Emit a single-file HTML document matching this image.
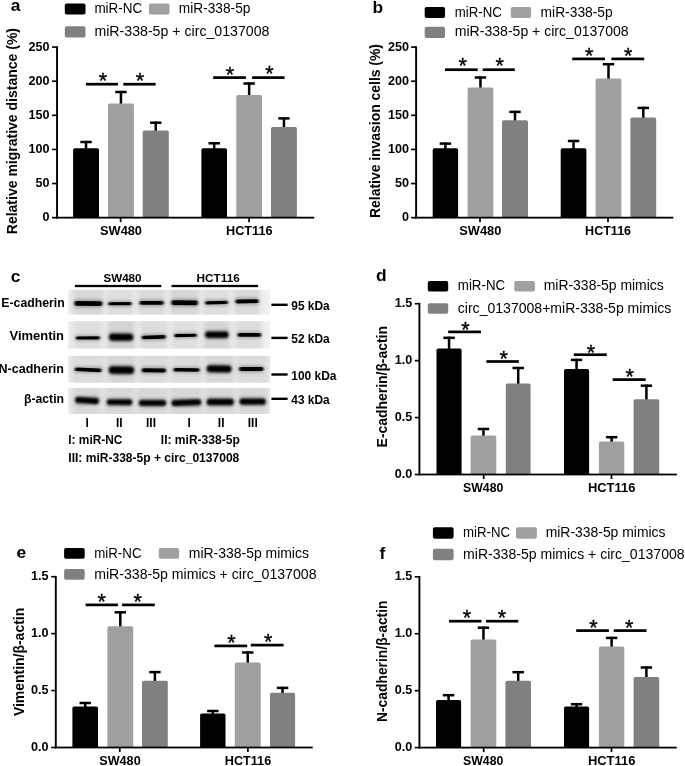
<!DOCTYPE html>
<html lang="en"><head><meta charset="utf-8"><title>Figure</title>
<style>
html,body{margin:0;padding:0;background:#fff;}
body{width:685px;height:766px;overflow:hidden;}
svg{display:block;font-family:"Liberation Sans",Arial,Helvetica,sans-serif;}
</style></head><body>
<svg width="685" height="766" viewBox="0 0 685 766">
<defs>
<filter id="blur" x="-5%" y="-5%" width="110%" height="110%"><feGaussianBlur stdDeviation="1.0 0.75"/></filter>
<filter id="blurT" x="-5%" y="-5%" width="110%" height="110%"><feGaussianBlur stdDeviation="1.3 1.1"/></filter>
<filter id="blur2" x="-5%" y="-5%" width="110%" height="110%"><feGaussianBlur stdDeviation="1.6 1.8"/></filter>
<filter id="blur3" x="-5%" y="-5%" width="110%" height="110%"><feGaussianBlur stdDeviation="1.8 0.1"/></filter>
<linearGradient id="blotbg1" x1="0" x2="1" y1="0" y2="0">
<stop offset="0" stop-color="#ececec"/><stop offset="0.03" stop-color="#e6e6e6"/><stop offset="0.94" stop-color="#e6e6e6"/><stop offset="0.97" stop-color="#eeeeee"/><stop offset="1" stop-color="#f2f2f2"/>
</linearGradient>
<linearGradient id="blotbg2" x1="0" x2="1" y1="0" y2="0">
<stop offset="0" stop-color="#e8e8e8"/><stop offset="0.03" stop-color="#e0e0e0"/><stop offset="0.97" stop-color="#e0e0e0"/><stop offset="1" stop-color="#e6e6e6"/>
</linearGradient>
<clipPath id="blotclip">
<rect x="68.2" y="289.8" width="201.8" height="24.80000000000001"/><rect x="68.2" y="321.2" width="201.8" height="27.400000000000034"/><rect x="68.2" y="355.8" width="201.8" height="26.899999999999977"/><rect x="68.2" y="388" width="201.8" height="25.899999999999977"/>
</clipPath>
</defs>
<rect width="685" height="766" fill="#fff"/>
<rect x="84.80" y="140.90" width="2.50" height="8.30" fill="#000000"/>
<rect x="80.35" y="140.75" width="11.40" height="2.50" fill="#000000"/>
<path d="M73.10 217.65V149.90Q73.10 148.20 74.80 148.20H97.30Q99.00 148.20 99.00 149.90V217.65Z" fill="#000000"/>
<rect x="119.70" y="90.90" width="2.50" height="13.60" fill="#000000"/>
<rect x="115.25" y="90.75" width="11.40" height="2.50" fill="#000000"/>
<path d="M108.00 217.65V105.20Q108.00 103.50 109.70 103.50H132.20Q133.90 103.50 133.90 105.20V217.65Z" fill="#a0a0a0"/>
<rect x="154.50" y="121.60" width="2.50" height="10.00" fill="#000000"/>
<rect x="150.05" y="121.45" width="11.40" height="2.50" fill="#000000"/>
<path d="M142.70 217.65V132.30Q142.70 130.60 144.40 130.60H167.10Q168.80 130.60 168.80 132.30V217.65Z" fill="#808080"/>
<rect x="212.95" y="142.20" width="2.50" height="7.00" fill="#000000"/>
<rect x="208.50" y="142.05" width="11.40" height="2.50" fill="#000000"/>
<path d="M201.40 217.65V149.90Q201.40 148.20 203.10 148.20H225.30Q227.00 148.20 227.00 149.90V217.65Z" fill="#000000"/>
<rect x="247.90" y="82.40" width="2.50" height="13.60" fill="#000000"/>
<rect x="243.45" y="82.25" width="11.40" height="2.50" fill="#000000"/>
<path d="M236.30 217.65V96.70Q236.30 95.00 238.00 95.00H260.30Q262.00 95.00 262.00 96.70V217.65Z" fill="#a0a0a0"/>
<rect x="282.70" y="117.30" width="2.50" height="10.80" fill="#000000"/>
<rect x="278.25" y="117.15" width="11.40" height="2.50" fill="#000000"/>
<path d="M271.00 217.65V128.80Q271.00 127.10 272.70 127.10H295.20Q296.90 127.10 296.90 128.80V217.65Z" fill="#808080"/>
<rect x="56.10" y="46.30" width="1.90" height="172.25" fill="#000000"/>
<rect x="56.15" y="216.75" width="258.05" height="1.80" fill="#000000"/>
<rect x="52.05" y="216.83" width="5.00" height="1.65" fill="#000000"/>
<text x="42.59" y="221.25" font-size="12.0" font-weight="bold" textLength="7.01" lengthAdjust="spacingAndGlyphs" fill="#000">0</text>
<rect x="52.05" y="182.72" width="5.00" height="1.65" fill="#000000"/>
<text x="35.58" y="187.14" font-size="12.0" font-weight="bold" textLength="14.02" lengthAdjust="spacingAndGlyphs" fill="#000">50</text>
<rect x="52.05" y="148.61" width="5.00" height="1.65" fill="#000000"/>
<text x="28.58" y="153.03" font-size="12.0" font-weight="bold" textLength="21.02" lengthAdjust="spacingAndGlyphs" fill="#000">100</text>
<rect x="52.05" y="114.49" width="5.00" height="1.65" fill="#000000"/>
<text x="28.58" y="118.92" font-size="12.0" font-weight="bold" textLength="21.02" lengthAdjust="spacingAndGlyphs" fill="#000">150</text>
<rect x="52.05" y="80.39" width="5.00" height="1.65" fill="#000000"/>
<text x="28.58" y="84.81" font-size="12.0" font-weight="bold" textLength="21.02" lengthAdjust="spacingAndGlyphs" fill="#000">200</text>
<rect x="52.05" y="46.27" width="5.00" height="1.65" fill="#000000"/>
<text x="28.58" y="50.70" font-size="12.0" font-weight="bold" textLength="21.02" lengthAdjust="spacingAndGlyphs" fill="#000">250</text>
<rect x="119.75" y="217.65" width="1.70" height="4.50" fill="#000000"/>
<text x="100.00" y="234.90" font-size="12.8" font-weight="bold" textLength="42.00" lengthAdjust="spacingAndGlyphs" fill="#000">SW480</text>
<rect x="248.25" y="217.65" width="1.70" height="4.50" fill="#000000"/>
<text x="226.00" y="234.90" font-size="12.8" font-weight="bold" textLength="46.50" lengthAdjust="spacingAndGlyphs" fill="#000">HCT116</text>
<rect x="85.90" y="82.85" width="32.00" height="2.70" fill="#000000"/>
<rect x="123.30" y="82.85" width="32.30" height="2.70" fill="#000000"/>
<rect x="213.20" y="76.25" width="32.70" height="2.70" fill="#000000"/>
<rect x="252.10" y="76.25" width="32.50" height="2.70" fill="#000000"/>
<text x="103.00" y="87.70" font-size="21.5" text-anchor="middle" font-weight="normal" stroke="#000" stroke-width="0.35">*</text>
<text x="140.00" y="87.70" font-size="21.5" text-anchor="middle" font-weight="normal" stroke="#000" stroke-width="0.35">*</text>
<text x="230.00" y="82.00" font-size="21.5" text-anchor="middle" font-weight="normal" stroke="#000" stroke-width="0.35">*</text>
<text x="269.50" y="81.00" font-size="21.5" text-anchor="middle" font-weight="normal" stroke="#000" stroke-width="0.35">*</text>
<text transform="translate(17.20 234.20) rotate(-90)" x="0.00" y="0" font-size="14.5" font-weight="bold" textLength="206.20" lengthAdjust="spacingAndGlyphs">Relative migrative distance (%)</text>
<rect x="64.80" y="3.50" width="20.70" height="11.05" fill="#000000" rx="1.8"/>
<rect x="149.00" y="3.50" width="20.50" height="11.05" fill="#a0a0a0" rx="1.8"/>
<rect x="64.80" y="26.20" width="20.70" height="11.25" fill="#808080" rx="1.8"/>
<text x="94.40" y="13.30" font-size="14" font-weight="normal" textLength="47.90" lengthAdjust="spacingAndGlyphs" fill="#000">miR-NC</text>
<text x="178.80" y="13.30" font-size="14" font-weight="normal" textLength="71.60" lengthAdjust="spacingAndGlyphs" fill="#000">miR-338-5p</text>
<text x="94.40" y="36.40" font-size="14" font-weight="normal" textLength="175.10" lengthAdjust="spacingAndGlyphs" fill="#000">miR-338-5p + circ_0137008</text>
<text x="10.80" y="10.60" font-size="17.4" font-weight="bold">a</text>
<rect x="444.15" y="142.50" width="2.50" height="6.70" fill="#000000"/>
<rect x="439.70" y="142.35" width="11.40" height="2.50" fill="#000000"/>
<path d="M432.70 217.65V149.90Q432.70 148.20 434.40 148.20H456.40Q458.10 148.20 458.10 149.90V217.65Z" fill="#000000"/>
<rect x="479.20" y="76.40" width="2.50" height="12.00" fill="#000000"/>
<rect x="474.75" y="76.25" width="11.40" height="2.50" fill="#000000"/>
<path d="M467.60 217.65V89.10Q467.60 87.40 469.30 87.40H491.60Q493.30 87.40 493.30 89.10V217.65Z" fill="#a0a0a0"/>
<rect x="513.75" y="110.80" width="2.50" height="10.50" fill="#000000"/>
<rect x="509.30" y="110.65" width="11.40" height="2.50" fill="#000000"/>
<path d="M502.00 217.65V122.00Q502.00 120.30 503.70 120.30H526.30Q528.00 120.30 528.00 122.00V217.65Z" fill="#808080"/>
<rect x="572.30" y="139.90" width="2.50" height="9.30" fill="#000000"/>
<rect x="567.85" y="139.75" width="11.40" height="2.50" fill="#000000"/>
<path d="M560.70 217.65V149.90Q560.70 148.20 562.40 148.20H584.70Q586.40 148.20 586.40 149.90V217.65Z" fill="#000000"/>
<rect x="607.25" y="63.10" width="2.50" height="16.50" fill="#000000"/>
<rect x="602.80" y="62.95" width="11.40" height="2.50" fill="#000000"/>
<path d="M595.60 217.65V80.30Q595.60 78.60 597.30 78.60H619.70Q621.40 78.60 621.40 80.30V217.65Z" fill="#a0a0a0"/>
<rect x="642.05" y="106.80" width="2.50" height="11.60" fill="#000000"/>
<rect x="637.60" y="106.65" width="11.40" height="2.50" fill="#000000"/>
<path d="M630.40 217.65V119.10Q630.40 117.40 632.10 117.40H654.50Q656.20 117.40 656.20 119.10V217.65Z" fill="#808080"/>
<rect x="415.15" y="46.30" width="1.90" height="172.25" fill="#000000"/>
<rect x="415.20" y="216.75" width="258.10" height="1.80" fill="#000000"/>
<rect x="411.10" y="216.83" width="5.00" height="1.65" fill="#000000"/>
<text x="401.99" y="221.25" font-size="12.0" font-weight="bold" textLength="7.01" lengthAdjust="spacingAndGlyphs" fill="#000">0</text>
<rect x="411.10" y="182.72" width="5.00" height="1.65" fill="#000000"/>
<text x="394.98" y="187.14" font-size="12.0" font-weight="bold" textLength="14.02" lengthAdjust="spacingAndGlyphs" fill="#000">50</text>
<rect x="411.10" y="148.61" width="5.00" height="1.65" fill="#000000"/>
<text x="387.98" y="153.03" font-size="12.0" font-weight="bold" textLength="21.02" lengthAdjust="spacingAndGlyphs" fill="#000">100</text>
<rect x="411.10" y="114.49" width="5.00" height="1.65" fill="#000000"/>
<text x="387.98" y="118.92" font-size="12.0" font-weight="bold" textLength="21.02" lengthAdjust="spacingAndGlyphs" fill="#000">150</text>
<rect x="411.10" y="80.39" width="5.00" height="1.65" fill="#000000"/>
<text x="387.98" y="84.81" font-size="12.0" font-weight="bold" textLength="21.02" lengthAdjust="spacingAndGlyphs" fill="#000">200</text>
<rect x="411.10" y="46.27" width="5.00" height="1.65" fill="#000000"/>
<text x="387.98" y="50.70" font-size="12.0" font-weight="bold" textLength="21.02" lengthAdjust="spacingAndGlyphs" fill="#000">250</text>
<rect x="479.15" y="217.65" width="1.70" height="4.50" fill="#000000"/>
<text x="459.30" y="234.90" font-size="12.8" font-weight="bold" textLength="42.00" lengthAdjust="spacingAndGlyphs" fill="#000">SW480</text>
<rect x="607.15" y="217.65" width="1.70" height="4.50" fill="#000000"/>
<text x="585.10" y="234.90" font-size="12.8" font-weight="bold" textLength="46.00" lengthAdjust="spacingAndGlyphs" fill="#000">HCT116</text>
<rect x="445.00" y="68.35" width="32.70" height="2.70" fill="#000000"/>
<rect x="482.70" y="68.35" width="32.10" height="2.70" fill="#000000"/>
<rect x="572.20" y="57.55" width="32.80" height="2.70" fill="#000000"/>
<rect x="611.40" y="57.55" width="32.80" height="2.70" fill="#000000"/>
<text x="462.80" y="73.10" font-size="21.5" text-anchor="middle" font-weight="normal" stroke="#000" stroke-width="0.35">*</text>
<text x="499.80" y="73.10" font-size="21.5" text-anchor="middle" font-weight="normal" stroke="#000" stroke-width="0.35">*</text>
<text x="589.10" y="63.10" font-size="21.5" text-anchor="middle" font-weight="normal" stroke="#000" stroke-width="0.35">*</text>
<text x="628.30" y="63.10" font-size="21.5" text-anchor="middle" font-weight="normal" stroke="#000" stroke-width="0.35">*</text>
<text transform="translate(380.40 218.00) rotate(-90)" x="0.00" y="0" font-size="14.5" font-weight="bold" textLength="174.00" lengthAdjust="spacingAndGlyphs">Relative invasion cells (%)</text>
<rect x="424.70" y="6.90" width="20.30" height="11.05" fill="#000000" rx="1.8"/>
<rect x="510.80" y="6.90" width="20.30" height="11.05" fill="#a0a0a0" rx="1.8"/>
<rect x="424.70" y="26.80" width="20.30" height="11.15" fill="#808080" rx="1.8"/>
<text x="454.80" y="16.60" font-size="14" font-weight="normal" textLength="47.00" lengthAdjust="spacingAndGlyphs" fill="#000">miR-NC</text>
<text x="540.60" y="16.60" font-size="14" font-weight="normal" textLength="72.10" lengthAdjust="spacingAndGlyphs" fill="#000">miR-338-5p</text>
<text x="454.80" y="36.40" font-size="14" font-weight="normal" textLength="173.80" lengthAdjust="spacingAndGlyphs" fill="#000">miR-338-5p + circ_0137008</text>
<text x="372.60" y="12.60" font-size="17.4" font-weight="bold">b</text>
<rect x="447.80" y="336.70" width="2.50" height="12.80" fill="#000000"/>
<rect x="443.35" y="336.55" width="11.40" height="2.50" fill="#000000"/>
<path d="M436.50 474.50V350.20Q436.50 348.50 438.20 348.50H459.90Q461.60 348.50 461.60 350.20V474.50Z" fill="#000000"/>
<rect x="482.20" y="427.90" width="2.50" height="8.70" fill="#000000"/>
<rect x="477.75" y="427.75" width="11.40" height="2.50" fill="#000000"/>
<path d="M470.60 474.50V437.30Q470.60 435.60 472.30 435.60H494.60Q496.30 435.60 496.30 437.30V474.50Z" fill="#a0a0a0"/>
<rect x="516.95" y="366.90" width="2.50" height="17.70" fill="#000000"/>
<rect x="512.50" y="366.75" width="11.40" height="2.50" fill="#000000"/>
<path d="M505.80 474.50V385.30Q505.80 383.60 507.50 383.60H528.90Q530.60 383.60 530.60 385.30V474.50Z" fill="#808080"/>
<rect x="575.30" y="358.80" width="2.50" height="11.30" fill="#000000"/>
<rect x="570.85" y="358.65" width="11.40" height="2.50" fill="#000000"/>
<path d="M564.00 474.50V370.80Q564.00 369.10 565.70 369.10H587.40Q589.10 369.10 589.10 370.80V474.50Z" fill="#000000"/>
<rect x="610.35" y="436.10" width="2.50" height="6.30" fill="#000000"/>
<rect x="605.90" y="435.95" width="11.40" height="2.50" fill="#000000"/>
<path d="M598.90 474.50V443.10Q598.90 441.40 600.60 441.40H622.60Q624.30 441.40 624.30 443.10V474.50Z" fill="#a0a0a0"/>
<rect x="645.15" y="384.60" width="2.50" height="15.60" fill="#000000"/>
<rect x="640.70" y="384.45" width="11.40" height="2.50" fill="#000000"/>
<path d="M633.60 474.50V400.90Q633.60 399.20 635.30 399.20H657.50Q659.20 399.20 659.20 400.90V474.50Z" fill="#808080"/>
<rect x="418.45" y="302.90" width="1.90" height="172.50" fill="#000000"/>
<rect x="418.50" y="473.60" width="258.30" height="1.80" fill="#000000"/>
<rect x="414.80" y="473.68" width="4.60" height="1.65" fill="#000000"/>
<text x="394.79" y="478.10" font-size="12.0" font-weight="bold" textLength="17.52" lengthAdjust="spacingAndGlyphs" fill="#000">0.0</text>
<rect x="414.80" y="416.74" width="4.60" height="1.65" fill="#000000"/>
<text x="394.79" y="421.17" font-size="12.0" font-weight="bold" textLength="17.52" lengthAdjust="spacingAndGlyphs" fill="#000">0.5</text>
<rect x="414.80" y="359.81" width="4.60" height="1.65" fill="#000000"/>
<text x="394.79" y="364.23" font-size="12.0" font-weight="bold" textLength="17.52" lengthAdjust="spacingAndGlyphs" fill="#000">1.0</text>
<rect x="414.80" y="302.87" width="4.60" height="1.65" fill="#000000"/>
<text x="394.79" y="307.30" font-size="12.0" font-weight="bold" textLength="17.52" lengthAdjust="spacingAndGlyphs" fill="#000">1.5</text>
<rect x="482.85" y="474.50" width="1.70" height="4.50" fill="#000000"/>
<text x="463.10" y="492.10" font-size="12.8" font-weight="bold" textLength="40.20" lengthAdjust="spacingAndGlyphs" fill="#000">SW480</text>
<rect x="610.65" y="474.50" width="1.70" height="4.50" fill="#000000"/>
<text x="587.90" y="492.10" font-size="12.8" font-weight="bold" textLength="47.50" lengthAdjust="spacingAndGlyphs" fill="#000">HCT116</text>
<rect x="448.20" y="330.55" width="32.80" height="2.70" fill="#000000"/>
<rect x="486.40" y="360.15" width="32.40" height="2.70" fill="#000000"/>
<rect x="573.80" y="353.35" width="33.00" height="2.70" fill="#000000"/>
<rect x="612.70" y="378.25" width="33.00" height="2.70" fill="#000000"/>
<text x="465.40" y="336.70" font-size="21.5" text-anchor="middle" font-weight="normal" stroke="#000" stroke-width="0.35">*</text>
<text x="503.80" y="365.50" font-size="21.5" text-anchor="middle" font-weight="normal" stroke="#000" stroke-width="0.35">*</text>
<text x="590.90" y="359.80" font-size="21.5" text-anchor="middle" font-weight="normal" stroke="#000" stroke-width="0.35">*</text>
<text x="629.80" y="383.90" font-size="21.5" text-anchor="middle" font-weight="normal" stroke="#000" stroke-width="0.35">*</text>
<text transform="translate(387.30 447.40) rotate(-90)" x="0.00" y="0" font-size="14.5" font-weight="bold" textLength="121.40" lengthAdjust="spacingAndGlyphs">E-cadherin/β-actin</text>
<rect x="427.80" y="281.10" width="20.40" height="10.35" fill="#000000" rx="1.8"/>
<rect x="514.30" y="281.10" width="20.60" height="10.35" fill="#a0a0a0" rx="1.8"/>
<rect x="427.80" y="303.30" width="20.40" height="10.55" fill="#808080" rx="1.8"/>
<text x="457.80" y="290.20" font-size="14" font-weight="normal" textLength="47.30" lengthAdjust="spacingAndGlyphs" fill="#000">miR-NC</text>
<text x="543.70" y="290.20" font-size="14" font-weight="normal" textLength="120.10" lengthAdjust="spacingAndGlyphs" fill="#000">miR-338-5p mimics</text>
<text x="457.80" y="312.80" font-size="14" font-weight="normal" textLength="213.50" lengthAdjust="spacingAndGlyphs" fill="#000">circ_0137008+miR-338-5p mimics</text>
<text x="376.00" y="281.10" font-size="17.4" font-weight="bold">d</text>
<rect x="83.95" y="701.90" width="2.50" height="5.70" fill="#000000"/>
<rect x="79.50" y="701.75" width="11.40" height="2.50" fill="#000000"/>
<path d="M72.40 747.50V708.30Q72.40 706.60 74.10 706.60H96.30Q98.00 706.60 98.00 708.30V747.50Z" fill="#000000"/>
<rect x="119.05" y="611.20" width="2.50" height="16.00" fill="#000000"/>
<rect x="114.60" y="611.05" width="11.40" height="2.50" fill="#000000"/>
<path d="M107.40 747.50V627.90Q107.40 626.20 109.10 626.20H131.50Q133.20 626.20 133.20 627.90V747.50Z" fill="#a0a0a0"/>
<rect x="153.65" y="671.00" width="2.50" height="10.70" fill="#000000"/>
<rect x="149.20" y="670.85" width="11.40" height="2.50" fill="#000000"/>
<path d="M142.00 747.50V682.40Q142.00 680.70 143.70 680.70H166.10Q167.80 680.70 167.80 682.40V747.50Z" fill="#808080"/>
<rect x="211.55" y="709.90" width="2.50" height="4.50" fill="#000000"/>
<rect x="207.10" y="709.75" width="11.40" height="2.50" fill="#000000"/>
<path d="M200.10 747.50V715.10Q200.10 713.40 201.80 713.40H223.80Q225.50 713.40 225.50 715.10V747.50Z" fill="#000000"/>
<rect x="246.50" y="651.40" width="2.50" height="12.00" fill="#000000"/>
<rect x="242.05" y="651.25" width="11.40" height="2.50" fill="#000000"/>
<path d="M234.80 747.50V664.10Q234.80 662.40 236.50 662.40H259.00Q260.70 662.40 260.70 664.10V747.50Z" fill="#a0a0a0"/>
<rect x="281.30" y="686.80" width="2.50" height="7.00" fill="#000000"/>
<rect x="276.85" y="686.65" width="11.40" height="2.50" fill="#000000"/>
<path d="M270.00 747.50V694.50Q270.00 692.80 271.70 692.80H293.40Q295.10 692.80 295.10 694.50V747.50Z" fill="#808080"/>
<rect x="54.85" y="575.90" width="1.90" height="172.50" fill="#000000"/>
<rect x="54.90" y="746.60" width="257.80" height="1.80" fill="#000000"/>
<rect x="51.20" y="746.67" width="4.60" height="1.65" fill="#000000"/>
<text x="31.09" y="751.10" font-size="12.0" font-weight="bold" textLength="17.52" lengthAdjust="spacingAndGlyphs" fill="#000">0.0</text>
<rect x="51.20" y="689.74" width="4.60" height="1.65" fill="#000000"/>
<text x="31.09" y="694.17" font-size="12.0" font-weight="bold" textLength="17.52" lengthAdjust="spacingAndGlyphs" fill="#000">0.5</text>
<rect x="51.20" y="632.81" width="4.60" height="1.65" fill="#000000"/>
<text x="31.09" y="637.23" font-size="12.0" font-weight="bold" textLength="17.52" lengthAdjust="spacingAndGlyphs" fill="#000">1.0</text>
<rect x="51.20" y="575.88" width="4.60" height="1.65" fill="#000000"/>
<text x="31.09" y="580.30" font-size="12.0" font-weight="bold" textLength="17.52" lengthAdjust="spacingAndGlyphs" fill="#000">1.5</text>
<rect x="118.95" y="747.50" width="1.70" height="4.50" fill="#000000"/>
<text x="99.20" y="765.20" font-size="12.8" font-weight="bold" textLength="41.50" lengthAdjust="spacingAndGlyphs" fill="#000">SW480</text>
<rect x="247.05" y="747.50" width="1.70" height="4.50" fill="#000000"/>
<text x="224.80" y="765.20" font-size="12.8" font-weight="bold" textLength="46.40" lengthAdjust="spacingAndGlyphs" fill="#000">HCT116</text>
<rect x="85.60" y="603.55" width="32.30" height="2.70" fill="#000000"/>
<rect x="122.10" y="603.55" width="32.70" height="2.70" fill="#000000"/>
<rect x="214.40" y="644.55" width="32.80" height="2.70" fill="#000000"/>
<rect x="250.80" y="643.75" width="32.80" height="2.70" fill="#000000"/>
<text x="101.80" y="609.40" font-size="21.5" text-anchor="middle" font-weight="normal" stroke="#000" stroke-width="0.35">*</text>
<text x="137.70" y="609.40" font-size="21.5" text-anchor="middle" font-weight="normal" stroke="#000" stroke-width="0.35">*</text>
<text x="231.50" y="650.30" font-size="21.5" text-anchor="middle" font-weight="normal" stroke="#000" stroke-width="0.35">*</text>
<text x="268.20" y="648.80" font-size="21.5" text-anchor="middle" font-weight="normal" stroke="#000" stroke-width="0.35">*</text>
<text transform="translate(23.80 716.10) rotate(-90)" x="0.00" y="0" font-size="14.5" font-weight="bold" textLength="108.30" lengthAdjust="spacingAndGlyphs">Vimentin/β-actin</text>
<rect x="64.10" y="548.10" width="20.60" height="10.75" fill="#000000" rx="1.8"/>
<rect x="158.80" y="548.10" width="20.20" height="10.75" fill="#a0a0a0" rx="1.8"/>
<rect x="64.10" y="569.10" width="20.60" height="10.75" fill="#808080" rx="1.8"/>
<text x="94.20" y="557.60" font-size="14" font-weight="normal" textLength="47.30" lengthAdjust="spacingAndGlyphs" fill="#000">miR-NC</text>
<text x="188.80" y="558.20" font-size="14" font-weight="normal" textLength="120.10" lengthAdjust="spacingAndGlyphs" fill="#000">miR-338-5p mimics</text>
<text x="94.20" y="579.00" font-size="14" font-weight="normal" textLength="222.30" lengthAdjust="spacingAndGlyphs" fill="#000">miR-338-5p mimics + circ_0137008</text>
<text x="16.60" y="557.60" font-size="17.4" font-weight="bold">e</text>
<rect x="447.30" y="694.10" width="2.50" height="7.00" fill="#000000"/>
<rect x="442.85" y="693.95" width="11.40" height="2.50" fill="#000000"/>
<path d="M436.00 747.60V701.80Q436.00 700.10 437.70 700.10H459.40Q461.10 700.10 461.10 701.80V747.60Z" fill="#000000"/>
<rect x="482.20" y="626.60" width="2.50" height="13.90" fill="#000000"/>
<rect x="477.75" y="626.45" width="11.40" height="2.50" fill="#000000"/>
<path d="M470.60 747.60V641.20Q470.60 639.50 472.30 639.50H494.60Q496.30 639.50 496.30 641.20V747.60Z" fill="#a0a0a0"/>
<rect x="516.95" y="671.10" width="2.50" height="10.70" fill="#000000"/>
<rect x="512.50" y="670.95" width="11.40" height="2.50" fill="#000000"/>
<path d="M505.40 747.60V682.50Q505.40 680.80 507.10 680.80H529.30Q531.00 680.80 531.00 682.50V747.60Z" fill="#808080"/>
<rect x="575.30" y="703.10" width="2.50" height="4.50" fill="#000000"/>
<rect x="570.85" y="702.95" width="11.40" height="2.50" fill="#000000"/>
<path d="M564.00 747.60V708.30Q564.00 706.60 565.70 706.60H587.40Q589.10 706.60 589.10 708.30V747.60Z" fill="#000000"/>
<rect x="610.35" y="636.80" width="2.50" height="10.80" fill="#000000"/>
<rect x="605.90" y="636.65" width="11.40" height="2.50" fill="#000000"/>
<path d="M598.90 747.60V648.30Q598.90 646.60 600.60 646.60H622.60Q624.30 646.60 624.30 648.30V747.60Z" fill="#a0a0a0"/>
<rect x="645.15" y="666.40" width="2.50" height="11.50" fill="#000000"/>
<rect x="640.70" y="666.25" width="11.40" height="2.50" fill="#000000"/>
<path d="M633.60 747.60V678.60Q633.60 676.90 635.30 676.90H657.50Q659.20 676.90 659.20 678.60V747.60Z" fill="#808080"/>
<rect x="418.45" y="576.00" width="1.90" height="172.50" fill="#000000"/>
<rect x="418.50" y="746.70" width="258.30" height="1.80" fill="#000000"/>
<rect x="414.70" y="746.77" width="4.70" height="1.65" fill="#000000"/>
<text x="394.79" y="751.20" font-size="12.0" font-weight="bold" textLength="17.52" lengthAdjust="spacingAndGlyphs" fill="#000">0.0</text>
<rect x="414.70" y="689.84" width="4.70" height="1.65" fill="#000000"/>
<text x="394.79" y="694.27" font-size="12.0" font-weight="bold" textLength="17.52" lengthAdjust="spacingAndGlyphs" fill="#000">0.5</text>
<rect x="414.70" y="632.91" width="4.70" height="1.65" fill="#000000"/>
<text x="394.79" y="637.33" font-size="12.0" font-weight="bold" textLength="17.52" lengthAdjust="spacingAndGlyphs" fill="#000">1.0</text>
<rect x="414.70" y="575.97" width="4.70" height="1.65" fill="#000000"/>
<text x="394.79" y="580.40" font-size="12.0" font-weight="bold" textLength="17.52" lengthAdjust="spacingAndGlyphs" fill="#000">1.5</text>
<rect x="482.85" y="747.60" width="1.70" height="4.50" fill="#000000"/>
<text x="463.10" y="765.20" font-size="12.8" font-weight="bold" textLength="40.20" lengthAdjust="spacingAndGlyphs" fill="#000">SW480</text>
<rect x="610.65" y="747.60" width="1.70" height="4.50" fill="#000000"/>
<text x="587.90" y="765.20" font-size="12.8" font-weight="bold" textLength="47.50" lengthAdjust="spacingAndGlyphs" fill="#000">HCT116</text>
<rect x="449.00" y="619.85" width="32.50" height="2.70" fill="#000000"/>
<rect x="486.00" y="619.85" width="32.30" height="2.70" fill="#000000"/>
<rect x="576.20" y="629.25" width="32.70" height="2.70" fill="#000000"/>
<rect x="613.70" y="629.25" width="32.80" height="2.70" fill="#000000"/>
<text x="466.90" y="625.10" font-size="21.5" text-anchor="middle" font-weight="normal" stroke="#000" stroke-width="0.35">*</text>
<text x="502.00" y="625.10" font-size="21.5" text-anchor="middle" font-weight="normal" stroke="#000" stroke-width="0.35">*</text>
<text x="593.40" y="634.60" font-size="21.5" text-anchor="middle" font-weight="normal" stroke="#000" stroke-width="0.35">*</text>
<text x="629.10" y="634.60" font-size="21.5" text-anchor="middle" font-weight="normal" stroke="#000" stroke-width="0.35">*</text>
<text transform="translate(387.30 722.00) rotate(-90)" x="0.00" y="0" font-size="14.5" font-weight="bold" textLength="121.50" lengthAdjust="spacingAndGlyphs">N-cadherin/β-actin</text>
<rect x="432.90" y="527.30" width="20.70" height="11.35" fill="#000000" rx="1.8"/>
<rect x="516.00" y="527.30" width="20.90" height="11.35" fill="#a0a0a0" rx="1.8"/>
<rect x="432.90" y="548.80" width="20.70" height="11.35" fill="#808080" rx="1.8"/>
<text x="463.10" y="537.10" font-size="14" font-weight="normal" textLength="47.00" lengthAdjust="spacingAndGlyphs" fill="#000">miR-NC</text>
<text x="545.70" y="537.10" font-size="14" font-weight="normal" textLength="119.80" lengthAdjust="spacingAndGlyphs" fill="#000">miR-338-5p mimics</text>
<text x="463.10" y="558.50" font-size="14" font-weight="normal" textLength="221.50" lengthAdjust="spacingAndGlyphs" fill="#000">miR-338-5p mimics + circ_0137008</text>
<text x="379.60" y="559.00" font-size="17.4" font-weight="bold">f</text>
<text x="10.8" y="281.7" font-size="17.4" font-weight="bold">c</text>
<text x="103.50" y="282.40" font-size="11.8" font-weight="bold" textLength="38.00" lengthAdjust="spacingAndGlyphs" fill="#000">SW480</text>
<text x="196.60" y="282.40" font-size="11.8" font-weight="bold" textLength="43.20" lengthAdjust="spacingAndGlyphs" fill="#000">HCT116</text>
<rect x="74.90" y="284.85" width="86.40" height="2.30" fill="#000000"/>
<rect x="171.50" y="284.85" width="86.60" height="2.30" fill="#000000"/>
<rect x="68.2" y="289.8" width="201.8" height="24.80000000000001" fill="url(#blotbg1)"/>
<rect x="68.2" y="321.2" width="201.8" height="27.400000000000034" fill="url(#blotbg1)"/>
<rect x="68.2" y="355.8" width="201.8" height="26.899999999999977" fill="url(#blotbg2)"/>
<rect x="68.2" y="388" width="201.8" height="25.899999999999977" fill="url(#blotbg2)"/>
<g clip-path="url(#blotclip)">
<g filter="url(#blur3)">
<rect x="73.9" y="286.8" width="28.9" height="30.8" fill="#000" opacity="0.055"/>
<rect x="107.8" y="286.8" width="24.2" height="30.8" fill="#000" opacity="0.034"/>
<rect x="139.1" y="286.8" width="25.0" height="30.8" fill="#000" opacity="0.046"/>
<rect x="170.9" y="286.8" width="27.4" height="30.8" fill="#000" opacity="0.058"/>
<rect x="204.7" y="286.8" width="23.7" height="30.8" fill="#000" opacity="0.035"/>
<rect x="235.0" y="286.8" width="24.0" height="30.8" fill="#000" opacity="0.047"/>
<rect x="75.3" y="318.2" width="25.1" height="33.4" fill="#000" opacity="0.034"/>
<rect x="108.4" y="318.2" width="25.5" height="33.4" fill="#000" opacity="0.079"/>
<rect x="141.3" y="318.2" width="24.9" height="33.4" fill="#000" opacity="0.043"/>
<rect x="173.8" y="318.2" width="23.4" height="33.4" fill="#000" opacity="0.032"/>
<rect x="204.4" y="318.2" width="24.8" height="33.4" fill="#000" opacity="0.072"/>
<rect x="237.1" y="318.2" width="24.5" height="33.4" fill="#000" opacity="0.041"/>
<rect x="74.3" y="352.8" width="27.7" height="32.9" fill="#000" opacity="0.020"/>
<rect x="108.2" y="352.8" width="26.5" height="32.9" fill="#000" opacity="0.042"/>
<rect x="141.3" y="352.8" width="25.1" height="32.9" fill="#000" opacity="0.024"/>
<rect x="173.0" y="352.8" width="27.1" height="32.9" fill="#000" opacity="0.019"/>
<rect x="206.1" y="352.8" width="26.0" height="32.9" fill="#000" opacity="0.040"/>
<rect x="238.6" y="352.8" width="25.4" height="32.9" fill="#000" opacity="0.024"/>
<rect x="74.5" y="385.0" width="25.1" height="31.9" fill="#000" opacity="0.035"/>
<rect x="106.1" y="385.0" width="26.8" height="31.9" fill="#000" opacity="0.032"/>
<rect x="138.2" y="385.0" width="28.6" height="31.9" fill="#000" opacity="0.033"/>
<rect x="170.9" y="385.0" width="30.9" height="31.9" fill="#000" opacity="0.034"/>
<rect x="206.1" y="385.0" width="28.4" height="31.9" fill="#000" opacity="0.037"/>
<rect x="238.9" y="385.0" width="27.5" height="31.9" fill="#000" opacity="0.035"/>
</g>
<g filter="url(#blur2)">
<rect x="73.4" y="299.60" width="29.9" height="7.80" rx="3.90" fill="#000" opacity="0.29"/>
<rect x="107.3" y="300.70" width="25.2" height="6.00" rx="3.00" fill="#000" opacity="0.26"/>
<rect x="138.6" y="299.30" width="26.0" height="7.00" rx="3.50" fill="#000" opacity="0.28"/>
<rect x="170.4" y="298.70" width="28.4" height="8.00" rx="4.00" fill="#000" opacity="0.30"/>
<rect x="204.2" y="299.55" width="24.7" height="6.10" rx="3.05" fill="#000" opacity="0.26"/>
<rect x="234.5" y="297.75" width="25.0" height="7.10" rx="3.55" fill="#000" opacity="0.28"/>
<rect x="74.8" y="334.90" width="26.1" height="6.00" rx="3.00" fill="#000" opacity="0.26"/>
<rect x="107.9" y="332.30" width="26.5" height="9.80" rx="4.90" fill="#000" opacity="0.33"/>
<rect x="140.8" y="333.80" width="25.9" height="6.80" rx="3.40" fill="#000" opacity="0.27"/>
<rect x="173.3" y="332.45" width="24.4" height="5.90" rx="2.95" fill="#000" opacity="0.25"/>
<rect x="203.9" y="330.10" width="25.8" height="9.20" rx="4.60" fill="#000" opacity="0.32"/>
<rect x="236.6" y="331.60" width="25.5" height="6.60" rx="3.30" fill="#000" opacity="0.27"/>
<rect x="73.8" y="366.55" width="28.7" height="6.50" rx="3.25" fill="#000" opacity="0.27"/>
<rect x="107.7" y="365.10" width="27.5" height="10.20" rx="5.10" fill="#000" opacity="0.34"/>
<rect x="140.8" y="366.80" width="26.1" height="7.20" rx="3.60" fill="#000" opacity="0.28"/>
<rect x="172.5" y="366.70" width="28.1" height="6.40" rx="3.20" fill="#000" opacity="0.26"/>
<rect x="205.6" y="364.00" width="27.0" height="9.80" rx="4.90" fill="#000" opacity="0.33"/>
<rect x="238.1" y="365.40" width="26.4" height="7.20" rx="3.60" fill="#000" opacity="0.28"/>
<rect x="74.0" y="396.00" width="26.1" height="9.00" rx="4.50" fill="#000" opacity="0.32"/>
<rect x="105.6" y="397.90" width="27.8" height="8.60" rx="4.30" fill="#000" opacity="0.31"/>
<rect x="137.7" y="398.55" width="29.6" height="8.70" rx="4.35" fill="#000" opacity="0.31"/>
<rect x="170.4" y="398.15" width="31.9" height="8.90" rx="4.45" fill="#000" opacity="0.31"/>
<rect x="205.6" y="397.30" width="29.4" height="9.40" rx="4.70" fill="#000" opacity="0.32"/>
<rect x="238.4" y="397.10" width="28.5" height="9.00" rx="4.50" fill="#000" opacity="0.32"/>
</g>
<g filter="url(#blur)">
<rect x="74.5" y="301.20" width="27.7" height="4.60" rx="2.20" fill="rgb(0,0,0)" transform="rotate(0.40 88.3 303.5)"/>
<rect x="108.4" y="302.12" width="23.0" height="3.15" rx="1.57" fill="rgb(5,5,5)" transform="rotate(-0.47 119.9 303.7)"/>
<rect x="139.7" y="300.90" width="23.8" height="3.80" rx="1.90" fill="rgb(3,3,3)" transform="rotate(0.00 151.6 302.8)"/>
<rect x="171.5" y="300.30" width="26.2" height="4.80" rx="2.20" fill="rgb(0,0,0)" transform="rotate(0.63 184.6 302.7)"/>
<rect x="205.3" y="300.98" width="22.5" height="3.25" rx="1.62" fill="rgb(4,4,4)" transform="rotate(-1.69 216.6 302.6)"/>
<rect x="235.6" y="299.35" width="22.8" height="3.90" rx="1.95" fill="rgb(1,1,1)" transform="rotate(-1.19 247.0 301.3)"/>
<rect x="75.9" y="336.32" width="23.9" height="3.15" rx="1.57" fill="rgb(4,4,4)" transform="rotate(-0.46 87.8 337.9)"/>
<rect x="141.9" y="335.40" width="23.7" height="3.60" rx="1.80" fill="rgb(1,1,1)" transform="rotate(-2.07 153.8 337.2)"/>
<rect x="174.4" y="333.88" width="22.2" height="3.05" rx="1.53" fill="rgb(4,4,4)" transform="rotate(-1.22 185.5 335.4)"/>
<rect x="237.7" y="333.02" width="23.3" height="3.75" rx="1.88" fill="rgb(3,3,3)" transform="rotate(0.47 249.4 334.9)"/>
<rect x="74.9" y="367.98" width="26.5" height="3.65" rx="1.82" fill="rgb(1,1,1)" transform="rotate(2.89 88.2 369.8)"/>
<rect x="141.9" y="368.40" width="23.9" height="4.00" rx="2.00" fill="rgb(0,0,0)" transform="rotate(0.46 153.9 370.4)"/>
<rect x="173.6" y="368.12" width="25.9" height="3.55" rx="1.78" fill="rgb(1,1,1)" transform="rotate(0.85 186.6 369.9)"/>
<rect x="239.2" y="367.00" width="24.2" height="4.00" rx="2.00" fill="rgb(0,0,0)" transform="rotate(0.00 251.3 369.0)"/>
</g>
<g filter="url(#blurT)">
<rect x="109.3" y="333.90" width="23.7" height="6.60" rx="3.30" fill="rgb(0,0,0)" transform="rotate(0.45 121.2 337.2)"/>
<rect x="205.3" y="331.70" width="23.0" height="6.00" rx="3.00" fill="rgb(0,0,0)" transform="rotate(0.46 216.8 334.7)"/>
<rect x="109.1" y="366.70" width="24.7" height="7.00" rx="3.50" fill="rgb(0,0,0)" transform="rotate(0.65 121.4 370.2)"/>
<rect x="207.0" y="365.60" width="24.2" height="6.60" rx="3.30" fill="rgb(0,0,0)" transform="rotate(0.66 219.1 368.9)"/>
<rect x="75.4" y="397.60" width="23.3" height="5.80" rx="2.90" fill="rgb(0,0,0)" transform="rotate(3.65 87.0 400.5)"/>
<rect x="107.0" y="399.50" width="25.0" height="5.40" rx="2.70" fill="rgb(0,0,0)" transform="rotate(0.64 119.5 402.2)"/>
<rect x="139.1" y="400.15" width="26.8" height="5.50" rx="2.75" fill="rgb(0,0,0)" transform="rotate(0.00 152.5 402.9)"/>
<rect x="171.8" y="399.75" width="29.1" height="5.70" rx="2.85" fill="rgb(0,0,0)" transform="rotate(-2.59 186.4 402.6)"/>
<rect x="207.0" y="398.90" width="26.6" height="6.20" rx="3.10" fill="rgb(0,0,0)" transform="rotate(0.00 220.3 402.0)"/>
<rect x="239.8" y="398.70" width="25.7" height="5.80" rx="2.90" fill="rgb(0,0,0)" transform="rotate(0.42 252.6 401.6)"/>
</g>
</g>
<text x="1.30" y="306.70" font-size="12.6" font-weight="bold" textLength="63.50" lengthAdjust="spacingAndGlyphs" fill="#000">E-cadherin</text>
<text x="9.50" y="340.00" font-size="12.6" font-weight="bold" textLength="54.50" lengthAdjust="spacingAndGlyphs" fill="#000">Vimentin</text>
<text x="-1.50" y="372.80" font-size="12.6" font-weight="bold" textLength="65.50" lengthAdjust="spacingAndGlyphs" fill="#000">N-cadherin</text>
<text x="23.90" y="402.70" font-size="12.6" font-weight="bold" textLength="40.20" lengthAdjust="spacingAndGlyphs" fill="#000">β-actin</text>
<rect x="271.40" y="303.60" width="16.20" height="2.40" fill="#000000"/>
<rect x="271.40" y="336.70" width="16.20" height="2.40" fill="#000000"/>
<rect x="271.40" y="373.30" width="16.20" height="2.40" fill="#000000"/>
<rect x="271.40" y="397.60" width="16.20" height="2.40" fill="#000000"/>
<text x="291.30" y="310.00" font-size="12.7" font-weight="bold" textLength="38.42" lengthAdjust="spacingAndGlyphs" fill="#000">95 kDa</text>
<text x="291.30" y="343.20" font-size="12.7" font-weight="bold" textLength="38.42" lengthAdjust="spacingAndGlyphs" fill="#000">52 kDa</text>
<text x="291.30" y="380.40" font-size="12.7" font-weight="bold" textLength="45.23" lengthAdjust="spacingAndGlyphs" fill="#000">100 kDa</text>
<text x="291.30" y="403.90" font-size="12.7" font-weight="bold" textLength="38.42" lengthAdjust="spacingAndGlyphs" fill="#000">43 kDa</text>
<text x="87.2" y="427" font-size="12" font-weight="bold" text-anchor="middle">I</text>
<text x="119.3" y="427" font-size="12" font-weight="bold" text-anchor="middle">II</text>
<text x="151" y="427" font-size="12" font-weight="bold" text-anchor="middle">III</text>
<text x="189.1" y="427" font-size="12" font-weight="bold" text-anchor="middle">I</text>
<text x="221.2" y="427" font-size="12" font-weight="bold" text-anchor="middle">II</text>
<text x="252.8" y="427" font-size="12" font-weight="bold" text-anchor="middle">III</text>
<text x="68.30" y="444.10" font-size="12" font-weight="bold" textLength="54.10" lengthAdjust="spacingAndGlyphs" fill="#000">I: miR-NC</text>
<text x="160.80" y="444.10" font-size="12" font-weight="bold" textLength="79.00" lengthAdjust="spacingAndGlyphs" fill="#000">II: miR-338-5p</text>
<text x="68.30" y="461.70" font-size="12" font-weight="bold" textLength="171.00" lengthAdjust="spacingAndGlyphs" fill="#000">III: miR-338-5p + circ_0137008</text>
</svg>
</body></html>
